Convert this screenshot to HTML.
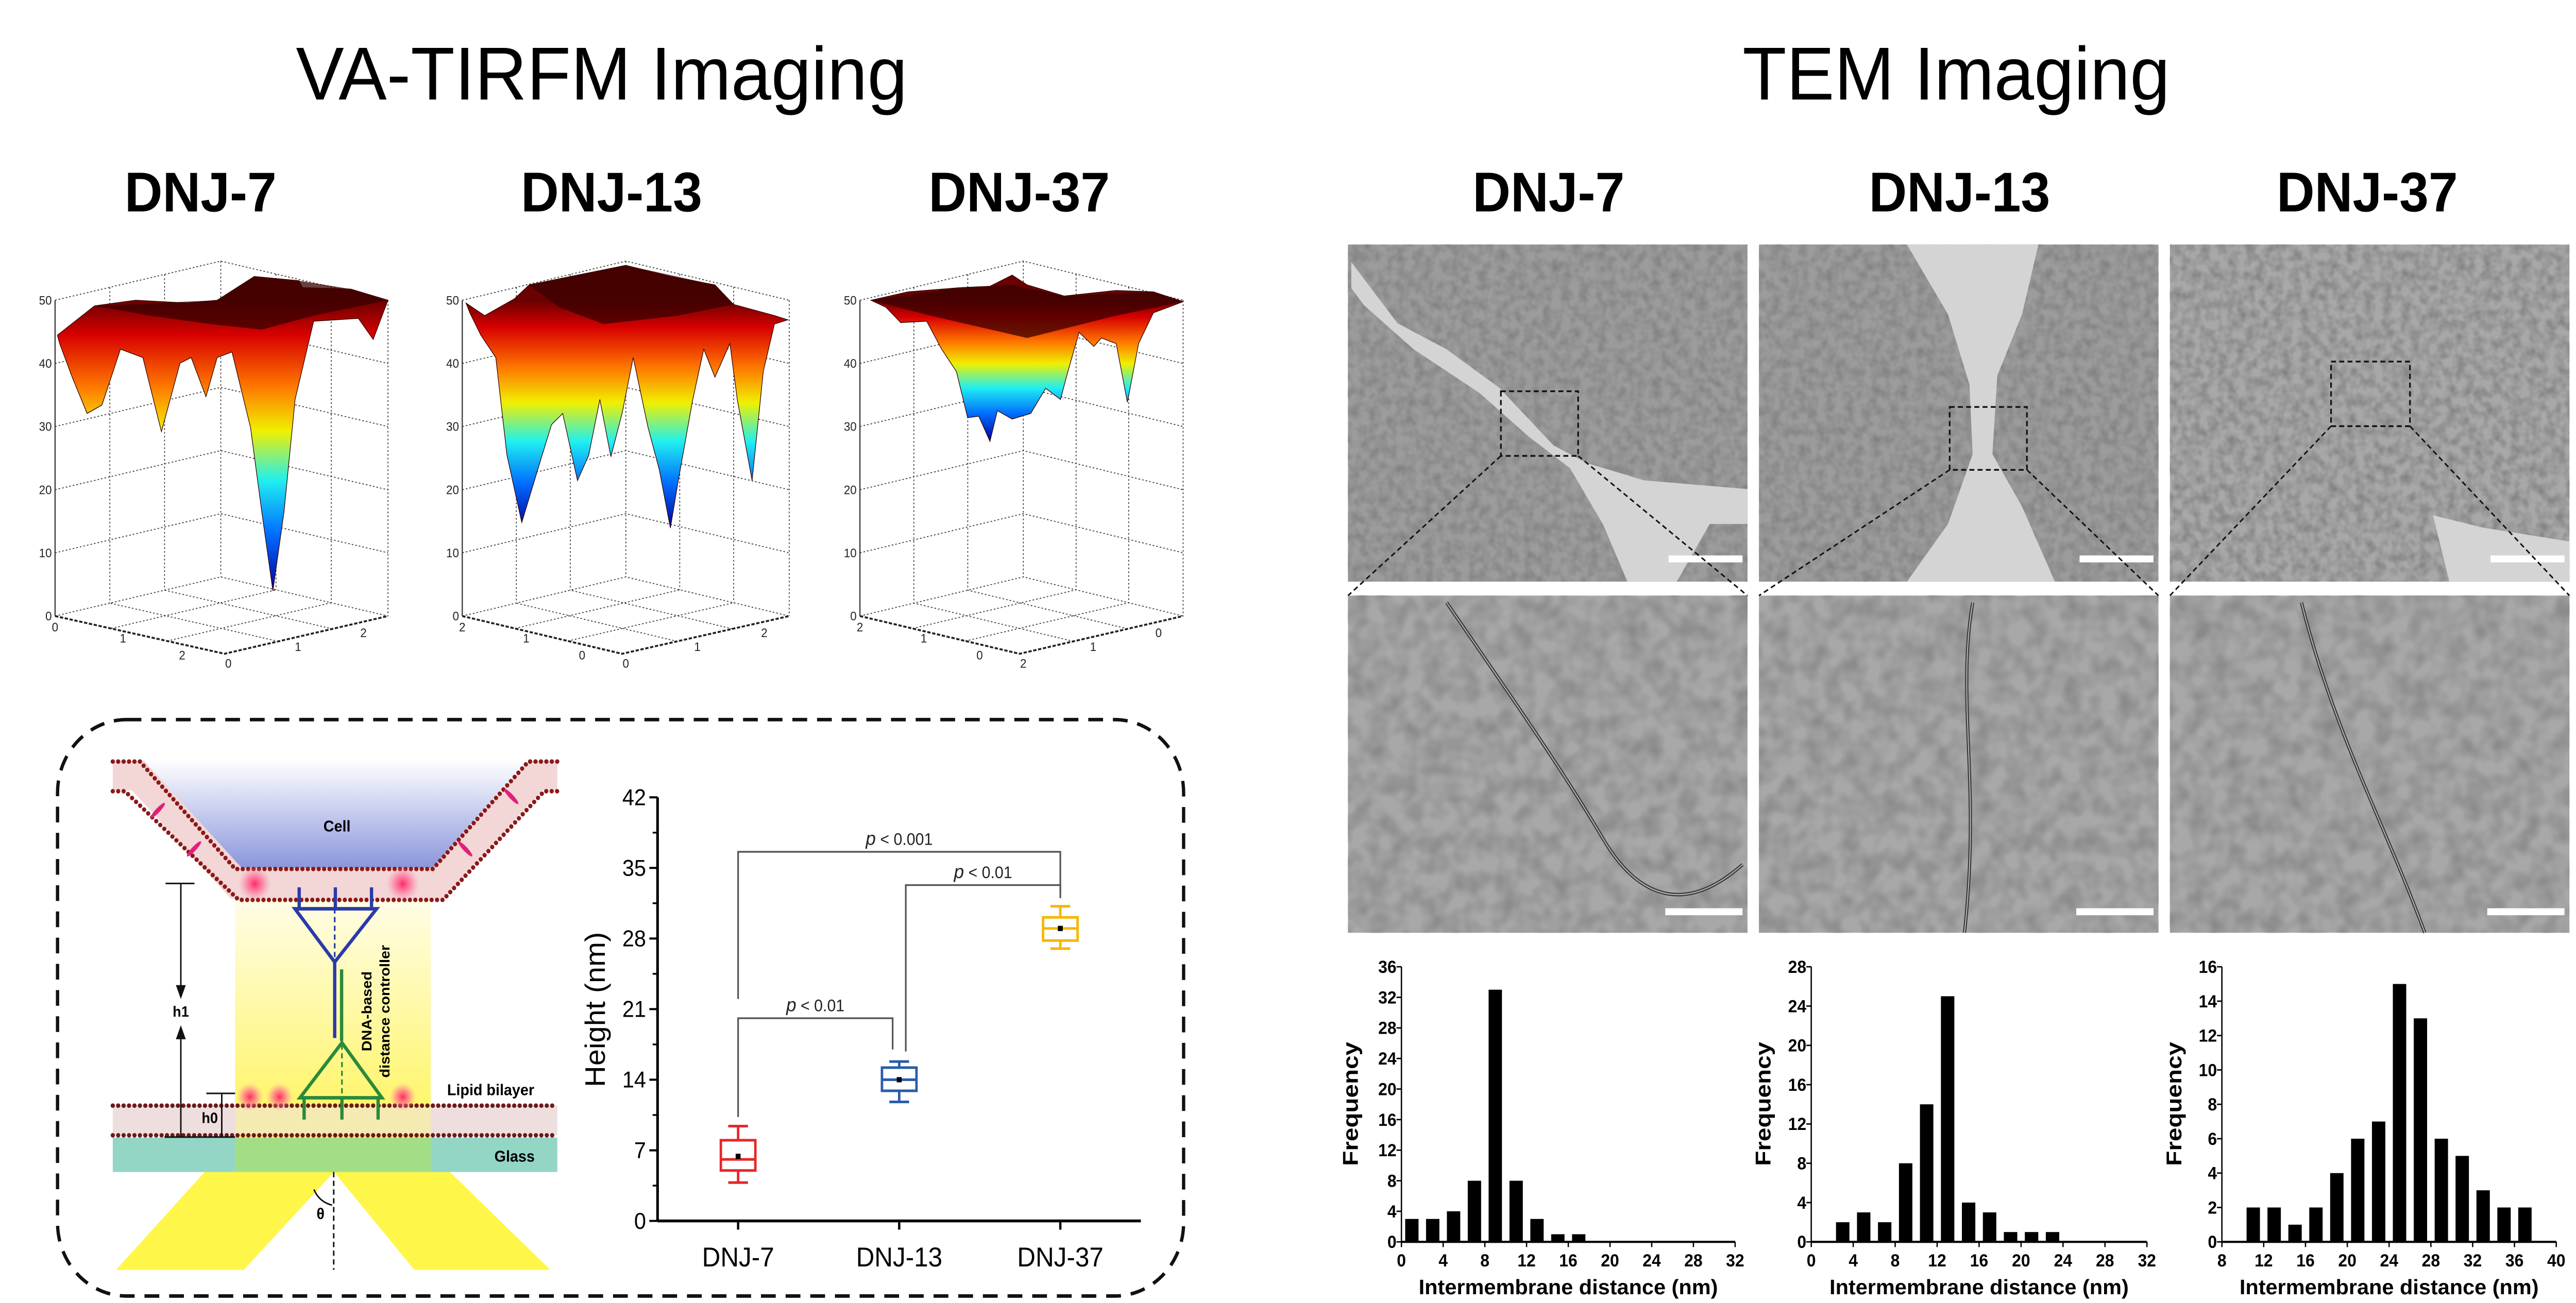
<!DOCTYPE html>
<html><head><meta charset="utf-8"><style>
html,body{margin:0;padding:0;background:#fff;overflow:hidden;width:100%;height:100%;}
svg{display:block;font-family:"Liberation Sans",Arial,sans-serif;width:100vw;height:100vh;}
</style></head><body>
<svg id="fig" width="5313" height="2530" viewBox="0 0 1567 746" preserveAspectRatio="none" xmlns="http://www.w3.org/2000/svg">
<defs>
<linearGradient id="cellGrad" x1="0" y1="0" x2="0" y2="1"><stop offset="0" stop-color="#ffffff"/><stop offset="1" stop-color="#8a96dc"/></linearGradient>
<linearGradient id="colGrad" x1="0" y1="0" x2="0" y2="1"><stop offset="0" stop-color="#fffde6"/><stop offset="1" stop-color="#fff45a"/></linearGradient>
<radialGradient id="glow"><stop offset="0" stop-color="#ff2060" stop-opacity="0.95"/><stop offset="0.5" stop-color="#ff5a8a" stop-opacity="0.6"/><stop offset="1" stop-color="#ff8ab0" stop-opacity="0"/></radialGradient>
<filter id="noise" x="0" y="0" width="1" height="1"><feTurbulence type="fractalNoise" baseFrequency="0.18" numOctaves="2" seed="3"/><feColorMatrix type="matrix" values="0 0 0 0 0.22  0 0 0 0 0.22  0 0 0 0 0.22  1.8 0 0 0 -0.6"/></filter>
<filter id="noise2" x="0" y="0" width="1" height="1"><feTurbulence type="fractalNoise" baseFrequency="0.09" numOctaves="2" seed="8"/><feColorMatrix type="matrix" values="0 0 0 0 0.25  0 0 0 0 0.25  0 0 0 0 0.25  1.9 0 0 0 -0.62"/></filter>
</defs>
<rect width="1567" height="746" fill="#fff"/>
<g font-size="43" text-anchor="middle">
<text x="366" y="57" textLength="372" lengthAdjust="spacingAndGlyphs">VA-TIRFM Imaging</text>
<text x="1190" y="57" textLength="260" lengthAdjust="spacingAndGlyphs">TEM Imaging</text>
</g>
<g font-size="32" font-weight="bold" text-anchor="middle">
<text x="122" y="121">DNJ-7</text>
<text x="372" y="121">DNJ-13</text>
<text x="620" y="121">DNJ-37</text>
<text x="942" y="121">DNJ-7</text>
<text x="1192" y="121">DNJ-13</text>
<text x="1440" y="121">DNJ-37</text>
</g>
<g id="surf"></g>

<rect x="35" y="412" width="685" height="330" rx="42" fill="none" stroke="#111" stroke-width="2" stroke-dasharray="9,6"/>

<g>
<polygon points="85,435 321,435 263,497 143,497" fill="url(#cellGrad)"/>
<rect x="143" y="515" width="119" height="136" fill="url(#colGrad)"/>
<polygon points="124.5,671 203.2,671 148.3,727 70.6,727" fill="#fff64a"/>
<polygon points="203.2,671 273.7,671 334.8,727 252,727" fill="#fff64a"/>
<rect x="68.6" y="651.3" width="270.4" height="19.7" fill="#93d6c6"/>
<rect x="143" y="651.3" width="119" height="19.7" fill="#a8e070" opacity="0.75"/>
<text x="313" y="665" font-size="9" font-weight="bold" text-anchor="middle">Glass</text>
<polyline points="68.6,444 84,444 144,506 266,506 326,444 339,444" fill="none" stroke="#f3d6d6" stroke-width="17"/>
<polyline points="68.6,436 85.1,436 143.1,497.5 263.3,497.5 321.4,436 339,436" fill="none" stroke="#8a1a1a" stroke-width="2.6" stroke-dasharray="0 3.3" stroke-linecap="round"/>
<polyline points="68.6,453 76,453 145.2,515.2 269.5,515.2 331,453 339,453" fill="none" stroke="#8a1a1a" stroke-width="2.6" stroke-dasharray="0 3.3" stroke-linecap="round"/>
<rect x="68.6" y="633" width="270.4" height="17" fill="#eedede"/>
<rect x="143" y="633" width="119" height="17" fill="#f6f0a0" opacity="0.7"/>
<line x1="68.6" y1="633" x2="339" y2="633" stroke="#6b1a1a" stroke-width="2.6" stroke-dasharray="0 3.3" stroke-linecap="round"/>
<line x1="68.6" y1="650" x2="339" y2="650" stroke="#6b1a1a" stroke-width="2.6" stroke-dasharray="0 3.3" stroke-linecap="round"/>
<text x="298.5" y="627" font-size="9" font-weight="bold" text-anchor="middle">Lipid bilayer</text>
<circle cx="155" cy="506" r="10" fill="url(#glow)"/><circle cx="245" cy="506" r="10" fill="url(#glow)"/>
<circle cx="152" cy="628" r="8" fill="url(#glow)"/><circle cx="170" cy="628" r="8" fill="url(#glow)"/><circle cx="245" cy="628" r="8" fill="url(#glow)"/>
<ellipse cx="96" cy="464" rx="1.3" ry="6" transform="rotate(45 96 464)" fill="#e0207a"/>
<ellipse cx="118" cy="486" rx="1.3" ry="6" transform="rotate(45 118 486)" fill="#e0207a"/>
<ellipse cx="283" cy="486" rx="1.3" ry="6" transform="rotate(-45 283 486)" fill="#e0207a"/>
<ellipse cx="311" cy="456" rx="1.3" ry="6" transform="rotate(-45 311 456)" fill="#e0207a"/>
<text x="205" y="476" font-size="9" font-weight="bold" text-anchor="middle">Cell</text>
<g stroke="#2a3aa8" fill="none" stroke-width="2">
<polygon points="179.4,520.3 229.1,520.3 203.6,550.8"/>
<line x1="203.6" y1="550.8" x2="203.6" y2="594.3"/>
<line x1="182" y1="508" x2="182" y2="520"/><line x1="204" y1="508" x2="204" y2="520"/><line x1="226" y1="508" x2="226" y2="520"/>
<line x1="203.6" y1="520" x2="203.6" y2="550" stroke-width="1" stroke-dasharray="3,2"/>
</g>
<g stroke="#2a8a3a" fill="none" stroke-width="2">
<line x1="207.8" y1="555" x2="207.8" y2="596"/>
<polygon points="208,597 182.5,628.5 232.3,628.5"/>
<line x1="185" y1="629" x2="185" y2="641"/><line x1="208" y1="629" x2="208" y2="641"/><line x1="230" y1="629" x2="230" y2="641"/>
<line x1="208" y1="598" x2="208" y2="628" stroke-width="1" stroke-dasharray="3,2"/>
</g>
<g font-size="8.5" font-weight="bold" text-anchor="middle">
<text transform="translate(226,579) rotate(-90)">DNA-based</text>
<text transform="translate(237,579) rotate(-90)">distance controller</text>
</g>
<g stroke="#111" stroke-width="0.9" fill="none">
<line x1="100.7" y1="505.8" x2="118.3" y2="505.8"/>
<line x1="110" y1="505.8" x2="110" y2="570"/>
<line x1="110" y1="589" x2="110" y2="651"/>
<line x1="100" y1="651" x2="143" y2="651"/>
<line x1="125.5" y1="626" x2="143" y2="626"/>
<line x1="134.9" y1="626" x2="134.9" y2="651"/>
<line x1="203" y1="671" x2="203" y2="727" stroke-dasharray="3,2"/>
<path d="M191,681 Q194,688 202,690"/>
</g>
<polygon points="107,564 113,564 110,572" fill="#111"/>
<polygon points="107,595 113,595 110,587" fill="#111"/>
<text x="110" y="582" font-size="8.5" font-weight="bold" text-anchor="middle">h1</text>
<text x="127.6" y="643" font-size="8.5" font-weight="bold" text-anchor="middle">h0</text>
<text x="195" y="698" font-size="9" font-weight="bold" text-anchor="middle">θ</text>
</g>

<g id="box"></g>
<g id="tem"></g>
<g id="hist"></g>
</svg>
<script>
const boxCats = ["DNJ-7","DNJ-13","DNJ-37"];
const boxQ1 = [5.0, 12.9, 27.8];
const boxMed = [6.1, 14.0, 29.0];
const boxQ3 = [8.0, 15.2, 30.1];
const boxMean = [6.4, 14.0, 29.0];
const boxWLo = [3.8, 11.8, 27.0];
const boxWHi = [9.4, 15.8, 31.2];
const boxColors = ["#e8262a","#2a5caa","#f5b800"];
const boxTicks = [0,7,14,21,28,35,42];
const sigLabels = ["p < 0.001","p < 0.01","p < 0.01"];
const sigLevels = [36.6, 33.3, 20.1];

const h1Centers = [1,3,5,7,9,11,13,15,17];
const h1Values = [3,3,4,8,33,8,3,1,1];
const h1XTicks = [0,4,8,12,16,20,24,28,32];
const h1YTicks = [0,4,8,12,16,20,24,28,32,36];
const h2Centers = [3,5,7,9,11,13,15,17,19,21,23];
const h2Values = [2,3,2,8,14,25,4,3,1,1,1];
const h2XTicks = [0,4,8,12,16,20,24,28,32];
const h2YTicks = [0,4,8,12,16,20,24,28];
const h3Centers = [11,13,15,17,19,21,23,25,27,29,31,33,35,37];
const h3Values = [2,2,1,2,4,6,7,15,13,6,5,3,2,2];
const h3XTicks = [8,12,16,20,24,28,32,36,40];
const h3YTicks = [0,2,4,6,8,10,12,14,16];

const NS = "http://www.w3.org/2000/svg";
function mk(tag, attrs, parent){const e=document.createElementNS(NS,tag);for(const k in attrs)e.setAttribute(k,attrs[k]);parent.appendChild(e);return e;}

(function(){
  const g=document.getElementById('box');
  const x0=400, x1=694, yb=699, yt=456.5;
  const ys=v=>yb-(v/42)*(yb-yt);
  const xs=i=>449+i*98;
  mk('line',{x1:x0,y1:yb,x2:x1,y2:yb,stroke:'#000','stroke-width':1.6},g);
  mk('line',{x1:x0,y1:yb,x2:x0,y2:yt,stroke:'#000','stroke-width':1.6},g);
  boxTicks.forEach(t=>{
    mk('line',{x1:x0-5,y1:ys(t),x2:x0,y2:ys(t),stroke:'#000','stroke-width':1.2},g);
    if(t<42) mk('line',{x1:x0-3,y1:ys(t+3.5),x2:x0,y2:ys(t+3.5),stroke:'#000','stroke-width':1},g);
    const tx=mk('text',{x:x0-7,y:ys(t)+4.5,'font-size':13,'text-anchor':'end'},g);
    
    
    tx.textContent=t;
  });
  const yl=mk('text',{transform:'translate(368,578) rotate(-90)','font-size':17,'text-anchor':'middle'},g);
  
  
  yl.textContent='Height (nm)';
  boxCats.forEach((c,i)=>{
    const x=xs(i), col=boxColors[i], w=10.5;
    mk('line',{x1:x,y1:yb,x2:x,y2:yb+5,stroke:'#000','stroke-width':1.4},g);
    const t=mk('text',{x:x,y:yb+26,'font-size':15.5,'text-anchor':'middle'},g);
    
    
    t.textContent=c;
    const bx=mk('g',{},g);
    
    
    mk('line',{x1:x,y1:ys(boxWLo[i]),x2:x,y2:ys(boxQ1[i]),stroke:col,'stroke-width':1.5},bx);
    mk('line',{x1:x,y1:ys(boxQ3[i]),x2:x,y2:ys(boxWHi[i]),stroke:col,'stroke-width':1.5},bx);
    mk('line',{x1:x-6,y1:ys(boxWLo[i]),x2:x+6,y2:ys(boxWLo[i]),stroke:col,'stroke-width':1.5},bx);
    mk('line',{x1:x-6,y1:ys(boxWHi[i]),x2:x+6,y2:ys(boxWHi[i]),stroke:col,'stroke-width':1.5},bx);
    mk('rect',{x:x-w,y:ys(boxQ3[i]),width:2*w,height:ys(boxQ1[i])-ys(boxQ3[i]),fill:'none',stroke:col,'stroke-width':1.5},bx);
    mk('line',{x1:x-w,y1:ys(boxMed[i]),x2:x+w,y2:ys(boxMed[i]),stroke:col,'stroke-width':1.5},bx);
    mk('rect',{x:x-1.5,y:ys(boxMean[i])-1.5,width:3,height:3,fill:'#000'},bx);
  });
  const brk=[[0,2,sigLevels[0],22,32.5],[1,2,sigLevels[1],16.8,32],[0,1,sigLevels[2],10.3,17]];
  brk.forEach((b,k)=>{
    const xb=xs(b[1])-(k===2?4:0);
    const xA = k===1? xs(1)+4 : xs(b[0]);
    const p=mk('polyline',{points:`${xA},${ys(b[3])} ${xA},${ys(b[2])} ${xb},${ys(b[2])} ${xb},${ys(b[4])}`,fill:'none',stroke:'#555','stroke-width':1},g);
    
    
    const t=mk('text',{x:(xA+xb)/2,y:ys(b[2])-4,'font-size':9.5,'text-anchor':'middle',fill:'#222'},g);
    
    
    t.innerHTML='<tspan font-style="italic" font-size="11">p</tspan> '+sigLabels[k].slice(2).replace('<','&lt;');
  });
})();

const surf1Top=[[25,370],[75,265],[130,245],[200,255],[240,245],[290,160],[350,175],[355,200],[420,205],[470,245]];
const surf1Bot=[[450,385],[430,310],[370,320],[345,600],[330,1000],[315,1285],[300,1000],[285,700],[260,430],[240,450],[225,590],[205,450],[190,470],[165,715],[140,450],[110,420],[85,620],[65,650],[45,520],[28,400]];
const surf1Dark=[[75,265],[240,245],[290,160],[350,175],[420,205],[470,245],[370,300],[300,350],[230,330],[150,300]];
const surf2Top=[[575,255],[600,300],[640,240],[660,190],[790,120],[850,160],[910,190],[935,260],[990,300],[1008,315]];
const surf2Bot=[[990,330],[975,500],[960,890],[940,600],[930,400],[910,520],[895,420],[880,600],[860,900],[850,1060],[835,850],[820,700],[800,450],[785,650],[770,805],[755,600],[740,800],[725,890],[705,650],[690,690],[675,820],[650,1040],[630,800],[615,450],[595,370],[580,290]];
const surf2Dark=[[660,190],[790,120],[910,190],[935,260],[860,300],[760,330],[700,270]];
const surf3Top=[[1120,245],[1170,215],[1240,200],[1280,195],[1310,155],[1330,190],[1380,230],[1450,210],[1500,215],[1540,250]];
const surf3Bot=[[1500,290],[1480,400],[1465,610],[1450,400],[1430,380],[1420,410],[1400,360],[1385,500],[1375,600],[1355,560],[1335,650],[1310,670],[1290,640],[1280,750],[1265,660],[1250,665],[1235,500],[1215,420],[1195,320],[1160,325],[1140,270]];
const surf3Dark=[[1120,245],[1240,200],[1310,190],[1380,230],[1500,215],[1540,250],[1450,300],[1330,380],[1200,300]];
(function(){
  const g=document.getElementById('surf');
  const defs=document.querySelector('defs');
  const M=p=>[(23.6+p[0]*0.452).toFixed(1),(132.7+p[1]*0.16).toFixed(1)];
  const pts=a=>a.map(p=>M(p).join(',')).join(' ');
  const plots=[
    {L:22,B:245,R:470,F:250,top:surf1Top,bot:surf1Bot,dark:surf1Dark,minzy:1285,base:['0','1','2','0','1','2']},
    {L:570,B:790,R:1010,F:785,top:surf2Top,bot:surf2Bot,dark:surf2Dark,minzy:1060,base:['2','1','0','0','1','2']},
    {L:1105,B:1325,R:1540,F:1320,top:surf3Top,bot:surf3Bot,dark:surf3Dark,minzy:750,base:['2','1','0','2','1','0']}
  ];
  plots.forEach((P,k)=>{
    const pg=mk('g',{},g);
    
    
    const zy=z=>1375-(z/50)*1130;
    const dot={stroke:'#333','stroke-width':0.5,'stroke-dasharray':'1,1.2',fill:'none'};
    for(let z=0;z<=50;z+=10){
      const a=M([P.L,zy(z)]),b=M([P.B,zy(z)-140]),c=M([P.R,zy(z)]);
      mk('polyline',Object.assign({points:`${a} ${b} ${c}`},dot),pg);
    }
    [P.L,P.B,P.R].forEach((x,i)=>{const a=M([x,i===1?105:245]),b=M([x,i===1?1235:1375]);mk('line',Object.assign({x1:a[0],y1:a[1],x2:b[0],y2:b[1]},dot),pg);});
    [0.33,0.66].forEach(f=>{
      const xl=P.L+(P.B-P.L)*f, xr=P.B+(P.R-P.B)*f;
      let a=M([xl,245-140*f]),b=M([xl,1375-140*f]);mk('line',Object.assign({x1:a[0],y1:a[1],x2:b[0],y2:b[1]},dot),pg);
      a=M([xr,105+140*f]);b=M([xr,1235+140*f]);mk('line',Object.assign({x1:a[0],y1:a[1],x2:b[0],y2:b[1]},dot),pg);
      a=M([P.L+(P.F-P.L)*f,1375+135*f]);b=M([P.B+(P.R-P.B)*f,1235+140*f]);mk('line',Object.assign({x1:a[0],y1:a[1],x2:b[0],y2:b[1]},dot),pg);
      a=M([P.F+(P.R-P.F)*f,1510-135*f]);b=M([P.L+(P.B-P.L)*f,1375-140*f]);mk('line',Object.assign({x1:a[0],y1:a[1],x2:b[0],y2:b[1]},dot),pg);
    });
    mk('polyline',{points:`${M([P.L,1375])} ${M([P.F,1510])} ${M([P.R,1375])}`,fill:'none',stroke:'#222','stroke-width':1.1,'stroke-dasharray':'2,1'},pg);
    const za=M([P.L,245]),zb=M([P.L,1375]);
    mk('line',{x1:za[0],y1:za[1],x2:zb[0],y2:zb[1],stroke:'#333','stroke-width':0.7},pg);
    for(let z=0;z<=50;z+=10){const p=M([P.L,zy(z)]);const t=mk('text',{x:+p[0]-2,y:+p[1]+2.5,'font-size':7,'text-anchor':'end',fill:'#222'},pg);t.textContent=z;}
    const bl=[[P.L,1430],[P.L+(P.F-P.L)*0.4,1470],[P.L+(P.F-P.L)*0.75,1530],[P.F+5,1560],[P.F+(P.R-P.F)*0.45,1500],[P.F+(P.R-P.F)*0.85,1450]];
    bl.forEach((q,i)=>{const p=M(q);const t=mk('text',{x:p[0],y:p[1],'font-size':7,'text-anchor':'middle',fill:'#222'},pg);t.textContent=P.base[i];});
    const gr=mk('linearGradient',{id:'jet'+k,gradientUnits:'userSpaceOnUse',x1:0,y1:M([0,245])[1],x2:0,y2:M([0,P.minzy])[1]},defs);
    [[0,'#6a0000'],[0.12,'#d80000'],[0.3,'#ff7a00'],[0.45,'#f0f000'],[0.62,'#20f0f0'],[0.8,'#0070ff'],[1,'#0000a0']].forEach(s=>mk('stop',{offset:s[0],'stop-color':s[1]},gr));
    const poly=mk('polygon',{points:pts(P.top.concat(P.bot)),fill:`url(#jet${k})`,stroke:'#300','stroke-width':0.4},pg);
    
    
    mk('polygon',{points:pts(P.dark),fill:'#3a0000',opacity:0.75},pg);
  });
})();

(function(){
  const g=document.getElementById('tem');
  const xs=[820,1070,1320], w=243;
  const light=[
    "822,150 850,185 880,200 912,222 945,255 965,265 1000,275 1063,280 1063,300 1040,300 1020,333 990,333 975,300 955,268 930,250 900,225 860,200 830,175 822,165",
    "1160,140 1240,140 1230,180 1215,215 1212,260 1230,290 1250,333 1160,333 1185,300 1200,260 1198,220 1185,180",
    "1480,295 1510,302 1563,310 1563,333 1490,333"];
  const sq=[[913,224,47,37],[1186,233,47,36],[1418,207,48,37]];
  const memb=["M880,345 C920,400 950,440 975,480 S1030,520 1060,495","M1200,345 C1190,400 1205,450 1195,534","M1400,345 C1420,420 1450,470 1475,534"];
  xs.forEach((x,i)=>{
    const tg=mk('g',{},g);
    
    
    mk('rect',{x:x,y:140,width:w,height:193,fill:i===2?'#a8a8a8':'#9c9c9c'},tg);
    mk('rect',{x:x,y:140,width:w,height:193,filter:'url(#noise)'},tg);
    mk('polygon',{points:light[i],fill:'#d4d4d4'},tg);
    mk('rect',{x:x+195,y:318,width:45,height:4,fill:'#fff'},tg);
    const s=sq[i];
    mk('rect',{x:s[0],y:s[1],width:s[2],height:s[3],fill:'none',stroke:'#111','stroke-width':1,'stroke-dasharray':'3,2'},tg);
    const bg=mk('g',{},g);
    
    
    mk('rect',{x:x,y:341,width:w,height:193,fill:'#a8a8a8'},bg);
    mk('rect',{x:x,y:341,width:w,height:193,filter:'url(#noise2)'},bg);
    mk('path',{d:memb[i],fill:'none',stroke:'#3a3a3a','stroke-width':2},bg);
    mk('path',{d:memb[i],fill:'none',stroke:'#bbb','stroke-width':0.6},bg);
    mk('rect',{x:x+193,y:520,width:47,height:4,fill:'#fff'},bg);
    mk('line',{x1:s[0],y1:s[1]+s[3],x2:x,y2:341,stroke:'#111','stroke-width':0.9,'stroke-dasharray':'3,2'},g);
    mk('line',{x1:s[0]+s[2],y1:s[1]+s[3],x2:x+w,y2:341,stroke:'#111','stroke-width':0.9,'stroke-dasharray':'3,2'},g);
  });
})();

(function(){
  const g=document.getElementById('hist');
  const H=[
    {c:h1Centers,v:h1Values,xt:h1XTicks,yt:h1YTicks,px0:852.5,px1:1055.5,ylx:826},
    {c:h2Centers,v:h2Values,xt:h2XTicks,yt:h2YTicks,px0:1101.8,px1:1306,ylx:1077},
    {c:h3Centers,v:h3Values,xt:h3XTicks,yt:h3YTicks,px0:1351.6,px1:1555,ylx:1327}
  ];
  H.forEach((h,k)=>{
    const hg=mk('g',{},g);
    
    
    const xmin=h.xt[0], xmax=h.xt[h.xt.length-1], ymax=h.yt[h.yt.length-1];
    const y0=711, y1=553.5;
    const X=v=>h.px0+(v-xmin)/(xmax-xmin)*(h.px1-h.px0);
    const Y=v=>y0-(v/ymax)*(y0-y1);
    mk('line',{x1:h.px0,y1:y0,x2:h.px1,y2:y0,stroke:'#000','stroke-width':1.2},hg);
    mk('line',{x1:h.px0,y1:y0,x2:h.px0,y2:y1,stroke:'#000','stroke-width':0.8},hg);
    h.xt.forEach(t=>{
      mk('line',{x1:X(t),y1:y0,x2:X(t),y2:y0+3,stroke:'#000','stroke-width':0.8},hg);
      const tx=mk('text',{x:X(t),y:y0+14,'font-size':10,'font-weight':'bold','text-anchor':'middle'},hg);
      
      
      tx.textContent=t;
    });
    h.yt.forEach(t=>{
      mk('line',{x1:h.px0-3,y1:Y(t),x2:h.px0,y2:Y(t),stroke:'#000','stroke-width':0.8},hg);
      const tx=mk('text',{x:h.px0-3,y:Y(t)+3.5,'font-size':10,'font-weight':'bold','text-anchor':'end'},hg);
      
      
      tx.textContent=t;
    });
    const bw=(X(2)-X(0))*0.64;
    h.c.forEach((c,i)=>{
      const r=mk('rect',{x:X(c)-bw/2,y:Y(h.v[i]),width:bw,height:y0-Y(h.v[i]),fill:'#000'},hg);
      
      
    });
    const yl=mk('text',{transform:`translate(${h.ylx},632) rotate(-90)`,'font-size':13,'font-weight':'bold','text-anchor':'middle',textLength:71,lengthAdjust:'spacingAndGlyphs'},hg);
    
    
    yl.textContent='Frequency';
    const xl=mk('text',{x:(h.px0+h.px1)/2,y:741,'font-size':12,'font-weight':'bold','text-anchor':'middle',textLength:182,lengthAdjust:'spacingAndGlyphs'},hg);
    
    
    xl.textContent='Intermembrane distance (nm)';
  });
})();
</script>
</body></html>
